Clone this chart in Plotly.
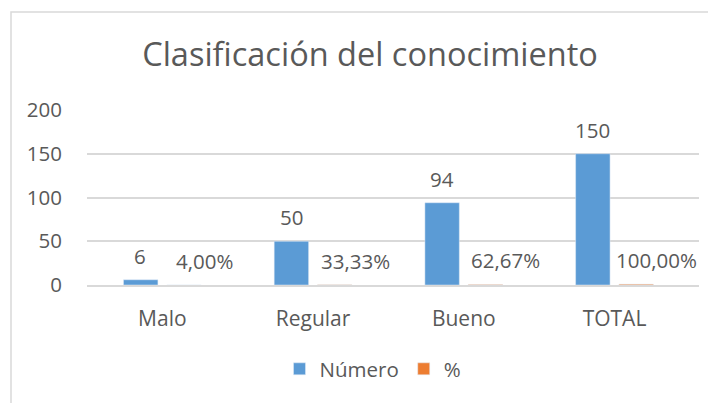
import plotly.graph_objects as go

categories = ["Malo", "Regular", "Bueno", "TOTAL"]
numero = [6, 50, 94, 150]
porcentaje = [0.04, 0.3333, 0.6267, 1.0]
porcentaje_labels = ["4,00%", "33,33%", "62,67%", "100,00%"]
y_ticks = [0, 50, 100, 150, 200]

BLUE = "#5B9BD5"
ORANGE = "#ED7D31"
TEXT = "#595959"
GRID = "#D9D9D9"
FONT = "Open Sans"
FS = 20.5
W, H = 716, 403
OFF = 8  # page body margin offset

# target screen positions
PL, PR, PT, PB = 87 - OFF, 699 - OFF, 110 - OFF, 285 - OFF
PW, PH = PR - PL, PB - PT

fig = go.Figure()
fig.add_trace(go.Bar(x=categories, y=numero, name="Número", marker_color=BLUE))
fig.add_trace(go.Bar(x=categories, y=porcentaje, name="%", marker_color=ORANGE))

annotations = []
for c, v in zip(categories, numero):
    annotations.append(dict(x=c, y=v, xref="x", yref="y", text=str(v), showarrow=False,
                            xshift=-22, yshift=24, font=dict(size=FS, color=TEXT, family=FONT)))
for c, v, t in zip(categories, porcentaje, porcentaje_labels):
    annotations.append(dict(x=c, y=v, xref="x", yref="y", text=t, showarrow=False,
                            xshift=42, yshift=24, font=dict(size=FS, color=TEXT, family=FONT)))

fig.update_layout(
    width=W, height=H,
    margin=dict(l=PL, r=W - PR, t=PT, b=H - PB, autoexpand=False),
    paper_bgcolor="white", plot_bgcolor="white",
    font=dict(family=FONT, color=TEXT, size=FS),
    title=dict(text="Clasificación del conocimiento", x=(370 - OFF) / W, xanchor="center",
               y=1 - (55 - OFF) / H, yanchor="middle", font=dict(size=32.5, color=TEXT, family=FONT)),
    barmode="group", bargap=0.425, bargroupgap=0.205,
    showlegend=True,
    legend=dict(orientation="h", x=(373 - OFF) / W, xanchor="center", xref="container",
                y=1 - (369 - OFF) / H, yanchor="middle", yref="container",
                font=dict(size=FS, color=TEXT), itemwidth=30, traceorder="normal"),
    annotations=annotations,
    shapes=[dict(type="rect", xref="paper", yref="paper",
                 x0=(11 - OFF - PL) / PW, x1=(740 - PL) / PW,
                 y0=(PB - 430) / PH, y1=(PB - (12 - OFF)) / PH,
                 line=dict(color=GRID, width=1.5),
                 fillcolor="rgba(0,0,0,0)", layer="below")],
)
fig.update_yaxes(range=[0, 200], tickvals=y_ticks, showgrid=True, gridcolor=GRID, gridwidth=1.5,
                 zeroline=False, showline=False, ticks="", tickfont=dict(size=FS, color=TEXT),
                 ticklabelstandoff=24)
fig.update_xaxes(showline=True, linecolor=GRID, linewidth=1.5, ticks="",
                 tickfont=dict(size=21, color=TEXT), ticklabelstandoff=14)

fig.write_html("out.html")
